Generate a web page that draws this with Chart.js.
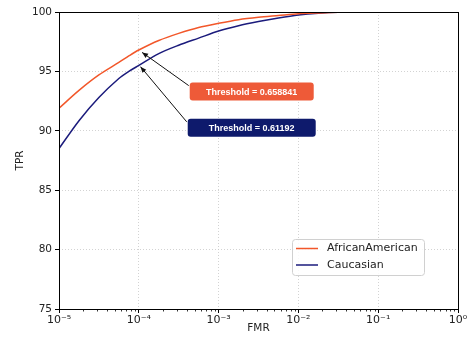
<!DOCTYPE html>
<html><head><meta charset="utf-8">
<script src="https://cdn.jsdelivr.net/npm/chart.js@4"></script>
<style>html,body{margin:0;padding:0;background:#fff;}canvas{display:block}</style>
</head><body>
<canvas id="c" width="467" height="343"></canvas>
<script>
// ---- data ----
const fmr = [1e-5, 1.78e-5, 3.16e-5, 5.62e-5, 7.5e-5, 1e-4, 1.78e-4, 3.16e-4, 5.62e-4, 1e-3, 1.78e-3, 3.16e-3, 5.62e-3, 1e-2, 1.78e-2, 3.16e-2, 1e-1, 1];
const africanAmerican = [91.9, 93.4, 94.7, 95.75, 96.3, 96.8, 97.6, 98.2, 98.7, 99.05, 99.35, 99.55, 99.7, 99.85, 99.92, 99.97, 100, 100];
const caucasian = [88.5, 90.85, 92.8, 94.4, 95.0, 95.5, 96.5, 97.2, 97.8, 98.4, 98.85, 99.2, 99.5, 99.75, 99.9, 99.97, 100, 100];
const seriesNames = ['AfricanAmerican', 'Caucasian'];
const xTickValues = [1e-5, 1e-4, 1e-3, 1e-2, 1e-1, 1];
const xTickLabels = ['10\u207B\u2075', '10\u207B\u2074', '10\u207B\u00B3', '10\u207B\u00B2', '10\u207B\u00B9', '10\u2070'];
const yTickValues = [75, 80, 85, 90, 95, 100];
const thresholdLabels = ['Threshold = 0.658841', 'Threshold = 0.61192'];
const arrowTipFmr = [1.1e-4, 1.05e-4];
const arrowTipTpr = [96.6, 95.4];
const boxFmr = [2.6e-3, 2.6e-3];
const boxTpr = [93.3, 90.25];

const ORANGE = '#f2572a', NAVY = '#1b1b7c';
const BOX_COLORS = ['#ee5a38', '#0e1a6c'];
const BOX_W = [124, 128];

const toPts = ys => fmr.map((x, i) => ({x, y: ys[i]}));

const framePlugin = {
  id: 'frame',
  afterDraw(chart) {
    const {ctx, chartArea: a, scales: {x, y}} = chart;
    ctx.save();
    ctx.strokeStyle = '#000'; ctx.lineWidth = 0.8;
    for (let d = -5; d < 0; d++) {
      for (let k = 2; k <= 9; k++) {
        const px = Math.round(x.getPixelForValue(k * Math.pow(10, d))) + 0.5;
        ctx.beginPath(); ctx.moveTo(px, a.bottom); ctx.lineTo(px, a.bottom + 2.5); ctx.stroke();
      }
    }
    ctx.lineWidth = 1; ctx.strokeStyle = '#000';
    ctx.strokeRect(Math.round(a.left) + 0.5, Math.round(a.top) + 0.5, Math.round(a.right - a.left), Math.round(a.bottom - a.top));
    for (let i = 0; i < thresholdLabels.length; i++) {
      const cx = x.getPixelForValue(boxFmr[i]), cy = y.getPixelForValue(boxTpr[i]);
      const w = BOX_W[i], h = 18;
      const bx = cx - w / 2, by = cy - h / 2;
      const tx = x.getPixelForValue(arrowTipFmr[i]), ty = y.getPixelForValue(arrowTipTpr[i]);
      const sx = bx - 1, sy = by + 3;
      ctx.strokeStyle = '#111'; ctx.lineWidth = 1;
      ctx.beginPath(); ctx.moveTo(sx, sy); ctx.lineTo(tx, ty); ctx.stroke();
      const ang = Math.atan2(ty - sy, tx - sx);
      const hl = 6, hw = 2.5;
      ctx.fillStyle = '#111';
      ctx.beginPath();
      ctx.moveTo(tx, ty);
      ctx.lineTo(tx - hl * Math.cos(ang) + hw * Math.sin(ang), ty - hl * Math.sin(ang) - hw * Math.cos(ang));
      ctx.lineTo(tx - hl * Math.cos(ang) - hw * Math.sin(ang), ty - hl * Math.sin(ang) + hw * Math.cos(ang));
      ctx.closePath(); ctx.fill();
      ctx.fillStyle = BOX_COLORS[i];
      ctx.beginPath(); ctx.roundRect(bx, by, w, h, 3); ctx.fill();
      ctx.fillStyle = '#fff';
      ctx.font = 'bold 9px "Liberation Sans", Arial, sans-serif';
      ctx.textAlign = 'center'; ctx.textBaseline = 'middle';
      ctx.fillText(thresholdLabels[i], cx, cy + 0.5);
    }
    const lx = 292, ly = 239, lw = 132, lh = 36;
    ctx.fillStyle = 'rgba(255,255,255,0.85)';
    ctx.strokeStyle = '#d0d0d0'; ctx.lineWidth = 1;
    ctx.beginPath(); ctx.roundRect(lx + 0.5, ly + 0.5, lw, lh, 3); ctx.fill(); ctx.stroke();
    ctx.font = '11px "DejaVu Sans", sans-serif';
    ctx.textAlign = 'left'; ctx.textBaseline = 'middle';
    chart.data.datasets.forEach((ds, i) => {
      const rowY = ly + 9.5 + i * 16.5;
      ctx.strokeStyle = ds.borderColor; ctx.lineWidth = 1.5;
      ctx.beginPath(); ctx.moveTo(lx + 4, rowY); ctx.lineTo(lx + 26, rowY); ctx.stroke();
      ctx.fillStyle = '#222';
      ctx.fillText(ds.label, lx + 35, rowY);
    });
    ctx.restore();
  }
};

new Chart(document.getElementById('c'), {
  type: 'line',
  data: {
    datasets: [
      {label: seriesNames[0], data: toPts(africanAmerican), borderColor: ORANGE, borderWidth: 1.5, pointRadius: 0, tension: 0.3, fill: false},
      {label: seriesNames[1], data: toPts(caucasian), borderColor: NAVY, borderWidth: 1.5, pointRadius: 0, tension: 0.3, fill: false}
    ]
  },
  options: {
    responsive: false,
    animation: false,
    layout: {padding: {top: 12, right: 9, left: 14, bottom: 8}},
    plugins: {legend: {display: false}, tooltip: {enabled: false}},
    scales: {
      x: {
        type: 'logarithmic', min: 1e-5, max: 1,
        afterBuildTicks: s => { s.ticks = xTickValues.map(v => ({value: v})); },
        afterFit: s => { s.height = 26; s.paddingLeft = 0; s.paddingRight = 0; },
        ticks: {
          autoSkip: false, maxRotation: 0, padding: 1,
          color: '#222', font: {family: 'DejaVu Sans', size: 11},
          callback: (v) => { const i = xTickValues.indexOf(v); return i >= 0 ? xTickLabels[i] : ''; }
        },
        grid: {color: '#c8c8c8', lineWidth: 0.8, tickColor: '#000', tickLength: 4, tickWidth: 1},
        border: {display: false, dash: [1, 2]},
        title: {display: true, text: 'FMR', color: '#222', font: {family: 'DejaVu Sans', size: 10.5}, padding: {top: 0, bottom: 0}}
      },
      y: {
        min: 75, max: 100,
        afterBuildTicks: s => { s.ticks = yTickValues.map(v => ({value: v})); },
        afterFit: s => { s.width = 45; s.paddingTop = 0; s.paddingBottom = 0; },
        ticks: {color: '#222', padding: 3, font: {family: 'DejaVu Sans', size: 10.5}},
        grid: {color: '#c8c8c8', lineWidth: 0.8, tickColor: '#000', tickLength: 4, tickWidth: 1},
        border: {display: false, dash: [1, 2]},
        title: {display: true, text: 'TPR', color: '#222', font: {family: 'DejaVu Sans', size: 10.5}, padding: {top: 0, bottom: 0}}
      }
    }
  },
  plugins: [framePlugin]
});
</script>
</body></html>
